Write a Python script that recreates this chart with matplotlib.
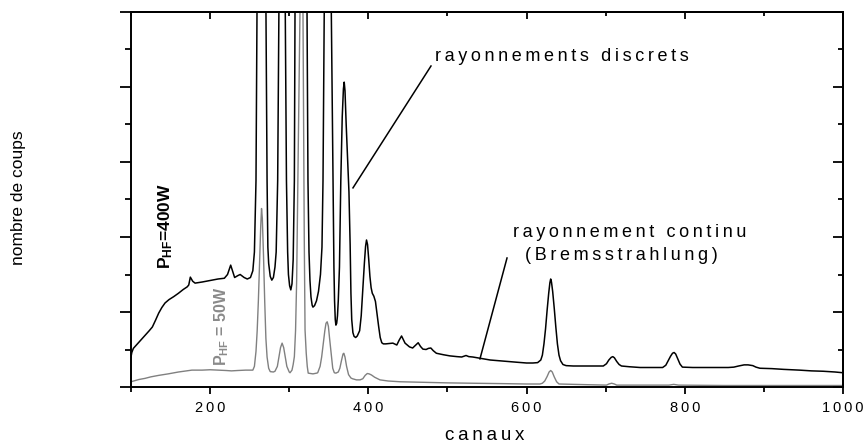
import matplotlib
matplotlib.use("Agg")
import matplotlib.pyplot as plt
from matplotlib.ticker import MultipleLocator, FuncFormatter, NullFormatter

plt.rcParams['font.family'] = ['Liberation Sans', 'DejaVu Sans']
plt.rcParams['mathtext.fontset'] = 'custom'
plt.rcParams['mathtext.rm'] = 'Liberation Sans'
plt.rcParams['mathtext.bf'] = 'Liberation Sans:bold'
plt.rcParams['mathtext.it'] = 'Liberation Sans:italic'

# ---- data (P_HF = 400 W spectrum) ----
black_ch = [100, 101, 103, 106, 109, 113, 118, 123, 127, 131, 135, 139, 143, 148, 154, 160, 166,
            171, 173, 175, 178, 181, 190, 200, 210, 218, 222, 226, 229, 231, 235, 238, 243, 247,
            251, 254, 256, 258, 259.3, 262, 265, 268, 270.6, 272, 273, 274, 276, 278, 280, 282,
            283.5, 285.4, 287, 289, 291, 293, 295, 296.5, 298, 299, 300.5, 302, 303.5, 305,
            306.5, 307.3, 311, 315, 319, 322.5, 323.7, 325, 326.2, 327.5, 329, 330, 332, 334.5,
            337, 339.5, 341.4, 342.7, 344.3, 346.5, 348.5, 350.5, 353.2, 355.3, 356.5, 357.3,
            358.2, 359, 360, 361, 362, 363.5, 365.2, 367, 368.5, 369.5, 370.5, 372, 374, 375.5,
            377, 378, 379, 380.5, 382, 384, 386, 389, 391, 393, 395, 396.5, 397.7, 399, 400.5,
            402, 403.5, 405, 407, 409, 411, 413, 415, 417, 419, 422, 427, 431, 436, 439, 442,
            444.5, 446.4, 452, 456, 460, 463, 466, 469, 473, 476, 479, 482, 486, 495, 503, 512,
            518, 523.5, 527, 532, 543, 554, 565, 575, 588, 600, 608, 614, 618, 620, 622, 624,
            626, 628, 629.5, 630.5, 631.5, 633, 635, 637, 639, 641, 643, 646, 650, 659, 670, 680,
            690, 697, 701, 704, 707, 709, 711, 714, 717, 720, 730, 743.5, 755, 765, 772, 776,
            779, 782, 784.5, 786.5, 788.5, 791, 794, 797, 810, 825, 840, 855, 862, 868, 875,
            880, 886, 890, 895, 910, 925, 945, 960, 975, 990, 1000]
black_counts = [0.80, 0.92, 1.03, 1.10, 1.17, 1.26, 1.38, 1.50, 1.60, 1.78, 1.97, 2.12, 2.24,
                2.33, 2.41, 2.50, 2.60, 2.67, 2.72, 2.93, 2.82, 2.77, 2.80, 2.84, 2.88, 2.90,
                3.00, 3.25, 3.05, 2.92, 2.97, 3.00, 2.92, 2.88, 2.92, 3.10, 3.60, 5.50, 10.0, 24,
                30, 24, 10.0, 5.5, 3.73, 3.3, 2.95, 2.85, 2.92, 3.2, 3.6, 5.5, 10, 20, 25, 20, 10,
                5.5, 3.6, 3.0, 2.7, 2.59, 2.75, 3.4, 5.5, 10, 28, 40, 28, 10, 5.5, 3.6, 2.85, 2.4,
                2.18, 2.13, 2.17, 2.3, 2.55, 3.0, 3.73, 5.5, 10, 20, 24, 20, 10, 5.5, 3.2, 2.3,
                1.8, 1.65, 1.7, 1.9, 2.3, 3.2, 5.5, 7.2, 7.95, 8.13, 7.9, 7.0, 6.0, 5.2, 3.8, 2.5,
                1.8, 1.45, 1.35, 1.32, 1.36, 1.5, 1.9, 2.6, 3.3, 3.75, 3.92, 3.8, 3.4, 2.95, 2.65,
                2.5, 2.42, 2.28, 1.95, 1.62, 1.32, 1.18, 1.15, 1.15, 1.16, 1.17, 1.12, 1.25, 1.36,
                1.25, 1.17, 1.07, 1.04, 1.12, 1.18, 1.08, 1.01, 1.0, 1.03, 1.04, 0.97, 0.9, 0.86,
                0.83, 0.81, 0.80, 0.84, 0.81, 0.80, 0.76, 0.72, 0.70, 0.68, 0.66, 0.64, 0.64,
                0.65, 0.72, 0.85, 1.15, 1.55, 2.05, 2.5, 2.78, 2.88, 2.8, 2.55, 2.1, 1.6, 1.15,
                0.85, 0.7, 0.6, 0.57, 0.56, 0.56, 0.56, 0.56, 0.56, 0.62, 0.72, 0.79, 0.81, 0.78,
                0.68, 0.6, 0.56, 0.54, 0.52, 0.52, 0.52, 0.52, 0.58, 0.70, 0.82, 0.90, 0.92, 0.88,
                0.76, 0.61, 0.53, 0.52, 0.52, 0.52, 0.52, 0.53, 0.56, 0.59, 0.59, 0.57, 0.53,
                0.50, 0.49, 0.47, 0.45, 0.43, 0.42, 0.40, 0.38]

# ---- data (P_HF = 50 W spectrum) ----
gray_ch = [100, 105, 110, 117.7, 125, 135, 147, 160, 177, 190, 200, 210, 220, 227, 235, 245,
           252.5, 254, 256, 258, 259.5, 261, 262.5, 264, 265, 266, 267.5, 269, 270.5, 272, 274,
           276, 280, 282, 285, 287, 289, 291, 293, 295, 297, 300, 301, 303.5, 305, 306.5, 308,
           309.4, 311.5, 313.6, 315.5, 317.4, 319, 320, 321.5, 322.8, 324, 330, 334.7, 336, 339,
           341, 343, 345, 346.5, 348, 349.5, 351, 353, 355, 357, 359, 362, 364, 366, 368, 369,
           370.5, 372.5, 375, 378, 380, 385, 389.5, 393, 396, 398.7, 401, 404, 408, 414.7, 425,
           440, 460, 480, 500, 532.7, 570, 600, 617, 620, 623, 626, 628.5, 630.5, 632.5, 635,
           638, 641, 660, 680, 701, 704, 707.6, 711, 714, 740, 780, 786, 792, 850, 900, 950, 1000]
gray_counts = [0.14, 0.17, 0.20, 0.23, 0.27, 0.31, 0.35, 0.40, 0.45, 0.45, 0.46, 0.45, 0.44, 0.43,
               0.44, 0.45, 0.45, 0.45, 0.55, 0.95, 1.5, 2.3, 3.3, 4.3, 4.76, 4.5, 3.5, 2.3, 1.3,
               0.8, 0.5, 0.41, 0.40, 0.42, 0.55, 0.8, 1.05, 1.17, 1.05, 0.8, 0.55, 0.40, 0.38,
               0.45, 0.6, 0.81, 1.5, 2.85, 6.5, 10, 14, 10, 4, 1.52, 0.9, 0.55, 0.37, 0.35, 0.37,
               0.38, 0.55, 0.8, 1.15, 1.5, 1.7, 1.74, 1.62, 1.3, 0.9, 0.5, 0.38, 0.37, 0.40, 0.5,
               0.7, 0.88, 0.9, 0.8, 0.55, 0.33, 0.24, 0.22, 0.19, 0.19, 0.22, 0.31, 0.36, 0.35,
               0.32, 0.26, 0.19, 0.16, 0.14, 0.13, 0.12, 0.11, 0.10, 0.09, 0.08, 0.08, 0.10, 0.16,
               0.28, 0.40, 0.44, 0.40, 0.27, 0.14, 0.08, 0.07, 0.06, 0.05, 0.08, 0.10, 0.08, 0.05,
               0.05, 0.05, 0.07, 0.05, 0.04, 0.04, 0.04, 0.04]

x_label = "canaux"
y_label = "nombre de coups"
label_400 = r"$\mathbf{P}_{\mathbf{HF}}$=400W"
label_50 = r"$\mathbf{P}_{\mathbf{HF}}$ = 50W"
note_discrete = "rayonnements discrets"
note_cont1 = "rayonnement continu"
note_cont2 = "(Bremsstrahlung)"


def spaced(s):
    return "\u2009".join(s)


fig = plt.figure(figsize=(8.65, 4.44), dpi=100)
ax = fig.add_axes([131 / 865, 1 - 387 / 444, (843 - 131) / 865, (387 - 12) / 444])

ax.plot(black_ch, black_counts, color="black", lw=1.1, zorder=3)
ax.plot(gray_ch, gray_counts, color="#808080", lw=1.0, zorder=2)

ax.set_xlim(100, 1000)
ax.set_ylim(0, 10)

ax.xaxis.set_major_locator(MultipleLocator(200))
ax.xaxis.set_minor_locator(MultipleLocator(100))
ax.yaxis.set_major_locator(MultipleLocator(2))
ax.yaxis.set_minor_locator(MultipleLocator(1))
ax.xaxis.set_major_formatter(FuncFormatter(lambda v, p: spaced(str(int(round(v))))))
ax.yaxis.set_major_formatter(NullFormatter())

ax.tick_params(axis="x", which="major", direction="out", length=5, width=1.3, labelsize=10.5, pad=5)
ax.tick_params(axis="x", which="minor", direction="out", length=3.3, width=1.3)
ax.tick_params(axis="y", which="major", direction="out", length=8, width=1.3)
ax.tick_params(axis="y", which="minor", direction="out", length=4, width=1.3)

for sp in ax.spines.values():
    sp.set_linewidth(1.4)

top = ax.secondary_xaxis("top")
top.xaxis.set_major_locator(MultipleLocator(200))
top.xaxis.set_minor_locator(MultipleLocator(100))
top.xaxis.set_major_formatter(NullFormatter())
top.tick_params(which="major", direction="in", length=5, width=1.3)
top.tick_params(which="minor", direction="in", length=3, width=1.3)
top.spines["top"].set_linewidth(1.4)

right = ax.secondary_yaxis("right")
right.yaxis.set_major_locator(MultipleLocator(2))
right.yaxis.set_minor_locator(MultipleLocator(1))
right.yaxis.set_major_formatter(NullFormatter())
right.tick_params(which="major", direction="in", length=7, width=1.3)
right.tick_params(which="minor", direction="in", length=3.5, width=1.3)
right.spines["right"].set_linewidth(1.4)

# annotations
ax.plot([380.6, 479.2], [5.31, 8.56], color="black", lw=1.1)
ax.plot([541.1, 575.3], [0.75, 3.44], color="black", lw=1.1)
ax.text(484.3, 8.8, spaced(note_discrete), fontsize=13, ha="left", va="center")
ax.text(582.8, 4.13, spaced(note_cont1), fontsize=13, ha="left", va="center")
ax.text(598, 3.52, spaced(note_cont2), fontsize=13, ha="left", va="center")

ax.text(144, 4.29, label_400, fontsize=12.5, fontweight="bold", rotation=90,
        ha="center", va="center", color="black")
ax.text(215, 1.63, label_50, fontsize=11.5, fontweight="bold", rotation=90,
        ha="center", va="center", color="#8a8a8a")

fig.text(485 / 865, 1 - 435 / 444, spaced(x_label), fontsize=13.5, ha="center", va="center")
fig.text(19 / 865, 1 - 198 / 444, y_label, fontsize=12.5, rotation=90, ha="center", va="center")

fig.savefig("out.png", dpi=100)
